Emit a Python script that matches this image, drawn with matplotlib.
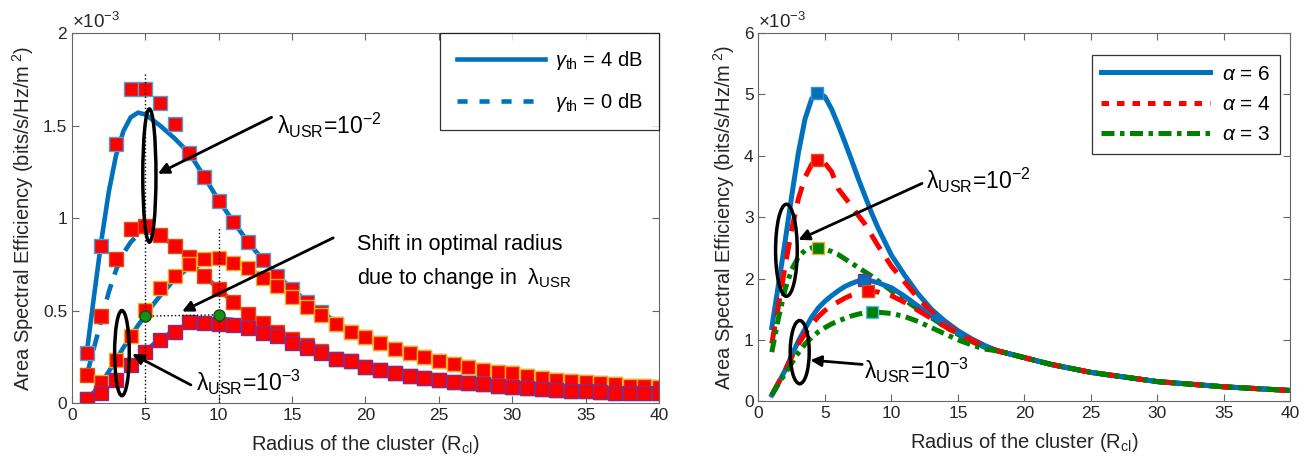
import numpy as np
import matplotlib
matplotlib.use("Agg")
import matplotlib.pyplot as plt
from matplotlib.patches import Ellipse
from matplotlib.lines import Line2D

plt.rcParams['font.family'] = ['Liberation Sans', 'DejaVu Sans']
plt.rcParams['mathtext.fontset'] = 'custom'
plt.rcParams['mathtext.rm'] = 'Liberation Sans'
plt.rcParams['mathtext.it'] = 'Liberation Sans:italic'
plt.rcParams['mathtext.sf'] = 'Liberation Sans'

# ---------------- Left panel data (units of 1e-3) ----------------
x_sim = list(range(1, 41))
# simulation markers
sim_l2_4db = [0.27, 0.85, 1.40, 1.70, 1.70, 1.62, 1.51, 1.35, 1.22, 1.09,
              0.98, 0.87, 0.775, 0.685, 0.616, 0.549, 0.495, 0.43, 0.386, 0.356,
              0.324, 0.29, 0.269, 0.248, 0.226, 0.211, 0.197, 0.181, 0.17, 0.161,
              0.148, 0.137, 0.127, 0.119, 0.112, 0.106, 0.101, 0.095, 0.09, 0.088]
sim_l2_0db = [0.15, 0.47, 0.78, 0.94, 0.955, 0.91, 0.85, 0.79, 0.685, 0.616,
              0.544, 0.48, 0.435, 0.385, 0.345, 0.314, 0.28, 0.24, 0.225, 0.197,
              0.179, 0.161, 0.146, 0.134, 0.125, 0.115, 0.107, 0.101, 0.092, 0.088,
              0.081, 0.078, 0.071, 0.067, 0.063, 0.06, 0.057, 0.055, 0.053, 0.052]
sim_l3_4db = [0.02, 0.115, 0.233, 0.363, 0.504, 0.62, 0.688, 0.75, 0.78, 0.785,
              0.757, 0.73, 0.676, 0.635, 0.576, 0.519, 0.478, 0.428, 0.386, 0.356,
              0.324, 0.29, 0.269, 0.248, 0.226, 0.211, 0.197, 0.181, 0.17, 0.161,
              0.148, 0.137, 0.127, 0.119, 0.112, 0.106, 0.101, 0.095, 0.09, 0.088]
sim_l3_0db = [0.02, 0.056, 0.125, 0.206, 0.278, 0.341, 0.386, 0.44, 0.435, 0.43,
              0.423, 0.405, 0.381, 0.36, 0.327, 0.296, 0.27, 0.24, 0.225, 0.197,
              0.179, 0.161, 0.146, 0.134, 0.125, 0.115, 0.107, 0.101, 0.092, 0.088,
              0.081, 0.078, 0.071, 0.067, 0.063, 0.06, 0.057, 0.055, 0.053, 0.052]

# analytical curves
x_ana = [1, 1.5, 2, 2.5, 3, 3.5, 4, 4.5, 5, 5.5, 6, 7, 8, 9, 10, 11, 12, 13, 14, 15,
         16, 17, 18, 19, 20, 21, 22, 23, 24, 25, 26, 27, 28, 29, 30, 31, 32, 33, 34, 35,
         36, 37, 38, 39, 40]
tail_4db = [0.39, 0.356, 0.324, 0.292, 0.27, 0.248, 0.226, 0.21, 0.196, 0.181, 0.17, 0.16,
            0.149, 0.138, 0.128, 0.12, 0.112, 0.106, 0.1, 0.095, 0.09, 0.087]
tail_0db = [0.225, 0.2, 0.18, 0.163, 0.148, 0.135, 0.125, 0.115, 0.107, 0.1, 0.092, 0.087,
            0.081, 0.077, 0.072, 0.068, 0.064, 0.061, 0.058, 0.056, 0.053, 0.051]
ana_l2_4db = [0.27, 0.58, 0.88, 1.14, 1.34, 1.47, 1.545, 1.57, 1.56, 1.53, 1.50, 1.43,
              1.35, 1.225, 1.095, 0.98, 0.87, 0.775, 0.69, 0.615, 0.55, 0.495, 0.435] + tail_4db
ana_l3_4db = [0.02, 0.06, 0.11, 0.17, 0.235, 0.30, 0.36, 0.42, 0.475, 0.53, 0.58, 0.67,
              0.735, 0.77, 0.78, 0.765, 0.73, 0.68, 0.635, 0.58, 0.525, 0.48, 0.435] + tail_4db
ana_l2_0db = [0.15, 0.30, 0.45, 0.60, 0.72, 0.81, 0.87, 0.91, 0.925, 0.92, 0.905, 0.85,
              0.775, 0.69, 0.615, 0.545, 0.48, 0.435, 0.385, 0.345, 0.31, 0.28, 0.25] + tail_0db
ana_l3_0db = [0.02, 0.04, 0.065, 0.10, 0.135, 0.17, 0.21, 0.245, 0.28, 0.315, 0.345, 0.395,
              0.43, 0.45, 0.455, 0.45, 0.43, 0.405, 0.375, 0.34, 0.305, 0.275, 0.248] + tail_0db

opt_x = [5, 10]
opt_y = [0.47, 0.477]

# ---------------- Right panel data (units of 1e-3) ----------------
x_r = [1, 1.5, 2, 2.5, 3, 3.5, 4, 4.5, 5, 5.5, 6, 6.5, 7, 7.5, 8, 8.5, 9, 10, 11, 12,
       13, 14, 15, 16, 17, 18, 20, 22, 25, 30, 35, 40]
tail_r = [0.82, 0.71, 0.6, 0.47, 0.32, 0.235, 0.175]
a6_l2 = [1.2, 1.9, 2.6, 3.35, 4.05, 4.6, 4.93, 5.03, 4.96, 4.76, 4.5, 4.22, 3.93, 3.63,
         3.35, 3.07, 2.82, 2.38, 2.05, 1.75, 1.5, 1.31, 1.15, 1.02, 0.91] + tail_r
a4_l2 = [0.94, 1.55, 2.2, 2.8, 3.3, 3.65, 3.86, 3.93, 3.88, 3.74, 3.46, 3.32, 3.18, 3.03,
         2.89, 2.71, 2.53, 2.2, 1.94, 1.68, 1.46, 1.27, 1.13, 1.01, 0.9] + tail_r
a3_l2 = [0.8, 1.35, 1.82, 2.15, 2.35, 2.46, 2.5, 2.5, 2.48, 2.44, 2.39, 2.32, 2.25, 2.18,
         2.11, 2.04, 1.96, 1.8, 1.65, 1.5, 1.36, 1.22, 1.09, 0.98, 0.88] + tail_r
a6_l3 = [0.1, 0.3, 0.5, 0.75, 0.98, 1.18, 1.37, 1.52, 1.63, 1.72, 1.8, 1.87, 1.92, 1.96,
         1.97, 1.96, 1.93, 1.85, 1.71, 1.55, 1.39, 1.25, 1.11, 0.99, 0.89] + tail_r
a4_l3 = [0.1, 0.3, 0.5, 0.72, 0.93, 1.1, 1.25, 1.38, 1.48, 1.56, 1.62, 1.68, 1.73, 1.77,
         1.79, 1.79, 1.78, 1.72, 1.61, 1.48, 1.35, 1.22, 1.1, 0.98, 0.88] + tail_r
a3_l3 = [0.1, 0.28, 0.45, 0.62, 0.79, 0.93, 1.04, 1.13, 1.2, 1.26, 1.31, 1.35, 1.39, 1.42,
         1.44, 1.45, 1.45, 1.43, 1.38, 1.3, 1.2, 1.1, 1.0, 0.92, 0.85] + tail_r

peak_x_l2 = [4.4, 4.4, 4.5]
peak_y_l2 = [5.03, 3.93, 2.5]
peak_x_l3 = [7.9, 8.2, 8.5]
peak_y_l3 = [1.97, 1.8, 1.46]

BLUE = '#0072BD'
RED = '#FF0000'
GREEN = '#008000'

fig = plt.figure(figsize=(13.1, 4.66), dpi=100)
ax1 = fig.add_axes([0.055, 0.135, 0.448, 0.794])
ax2 = fig.add_axes([0.579, 0.139, 0.406, 0.790])

TICK_FS = 12.5
LABEL_FS = 14.5

def style(ax):
    for s in ax.spines.values():
        s.set_color('#666666')
        s.set_linewidth(0.8)
    ax.tick_params(direction='in', top=True, right=True, length=5, width=0.8,
                   colors='#666666', labelcolor='#262626', labelsize=TICK_FS)

LW = 3.3
# left panel curves
ax1.plot(x_ana, ana_l2_4db, '-', color=BLUE, lw=LW)
ax1.plot(x_ana, ana_l2_0db, '--', color=BLUE, lw=LW, dashes=(3.5, 2.2))
ax1.plot(x_ana, ana_l3_4db, '-', color=BLUE, lw=LW)
ax1.plot(x_ana, ana_l3_0db, '--', color=BLUE, lw=LW, dashes=(3.5, 2.2))
ms = 9.5
ax1.plot(x_sim, sim_l2_4db, 's', ms=ms, mfc=RED, mec='#4DA0D8', mew=1.0, ls='none')
ax1.plot(x_sim, sim_l2_0db, 's', ms=ms, mfc=RED, mec='#D95319', mew=1.0, ls='none')
ax1.plot(x_sim, sim_l3_4db, 's', ms=ms, mfc=RED, mec='#EDB120', mew=1.0, ls='none')
ax1.plot(x_sim, sim_l3_0db, 's', ms=ms, mfc=RED, mec='#7E2F8E', mew=1.0, ls='none')

# dotted guides
ax1.plot([opt_x[0], opt_x[0]], [0, 1.79], ':', color='k', lw=1.0)
ax1.plot([opt_x[1], opt_x[1]], [0, 0.95], ':', color='k', lw=1.0)
ax1.plot(opt_x, opt_y, ':', color='k', lw=1.0)
ax1.plot(opt_x, opt_y, 'o', ms=8, mfc='#1A8C1A', mec='#0B4F0B', mew=1.0, ls='none', zorder=5)

ax1.set_xlim(0, 40)
ax1.set_ylim(0, 2)
ax1.set_xticks(range(0, 41, 5))
ax1.set_yticks([0, 0.5, 1, 1.5, 2])
ax1.set_yticklabels(['0', '0.5', '1', '1.5', '2'])
style(ax1)
ax1.set_xlabel(r'Radius of the cluster (R$_{\mathrm{cl}}$)', fontsize=LABEL_FS, color='#262626', labelpad=7)
ax1.set_ylabel(r'Area Spectral Efficiency (bits/s/Hz/m$^{\ 2}$)', fontsize=LABEL_FS, color='#262626', labelpad=5)
ax1.text(0, 1.003, r'$\times$10$^{-3}$', transform=ax1.transAxes, ha='left', va='bottom',
         fontsize=13.5, color='#262626')

leg1 = ax1.legend([Line2D([], [], color=BLUE, lw=LW),
                   Line2D([], [], color=BLUE, lw=LW, ls='--', dashes=(2.2, 2.6))],
                  [r'$\gamma_{\mathrm{th}}$ = 4 dB', r'$\gamma_{\mathrm{th}}$ = 0 dB'],
                  loc='upper right', bbox_to_anchor=(1.0, 1.0), borderaxespad=0,
                  fontsize=14.5, handlelength=4.4, frameon=True, fancybox=False,
                  edgecolor='k', borderpad=0.8, labelspacing=0.95, handletextpad=0.5)
leg1.get_frame().set_linewidth(0.9)

# annotations left
ax1.add_patch(Ellipse((5.27, 1.23), 0.9, 0.72, fill=False, lw=2.5, ec='k', zorder=6))
ax1.add_patch(Ellipse((3.4, 0.27), 1.0, 0.46, fill=False, lw=2.5, ec='k', zorder=6))
ap = dict(arrowstyle='-|>', lw=2.0, color='k', mutation_scale=16, shrinkA=0, shrinkB=0)
ax1.annotate('', xy=(5.85, 1.24), xytext=(13.6, 1.545), arrowprops=ap, zorder=7)
ax1.annotate('', xy=(4.1, 0.265), xytext=(8.1, 0.098), arrowprops=ap, zorder=7)
ax1.annotate('', xy=(7.5, 0.495), xytext=(17.8, 0.893), arrowprops=ap, zorder=7)
ANN_FS = 16.5
ax1.text(14.0, 1.50, r'λ$_{\mathrm{USR}}$=10$^{-2}$', fontsize=ANN_FS, va='center', ha='left')
ax1.text(8.45, 0.11, r'λ$_{\mathrm{USR}}$=10$^{-3}$', fontsize=ANN_FS, va='center', ha='left')
ax1.text(19.4, 0.856, 'Shift in optimal radius', fontsize=15.5, va='center', ha='left')
ax1.text(19.4, 0.675, r'due to change in  λ$_{\mathrm{USR}}$', fontsize=15.5, va='center', ha='left')

# right panel
LW2 = 3.6
dashdot = (2.6, 1.1, 0.9, 1.1)
ax2.plot(x_r, a6_l2, '-', color=BLUE, lw=LW2)
ax2.plot(x_r, a4_l2, '--', color=RED, lw=LW2, dashes=(3.5, 2.2))
ax2.plot(x_r, a3_l2, '-.', color=GREEN, lw=LW2, dashes=dashdot)
ax2.plot(x_r, a6_l3, '-', color=BLUE, lw=LW2)
ax2.plot(x_r, a4_l3, '--', color=RED, lw=LW2, dashes=(3.5, 2.2))
ax2.plot(x_r, a3_l3, '-.', color=GREEN, lw=LW2, dashes=dashdot)

face = [BLUE, RED, GREEN]
edge_l2 = ['#3B8FD0', '#D95319', '#EDB120']
edge_l3 = ['#7E2F8E', '#D95319', '#4DBEEE']
for i in range(3):
    ax2.plot([peak_x_l2[i]], [peak_y_l2[i]], 's', ms=9, mfc=face[i], mec=edge_l2[i], mew=1.0, zorder=5)
    ax2.plot([peak_x_l3[i]], [peak_y_l3[i]], 's', ms=9, mfc=face[i], mec=edge_l3[i], mew=1.0, zorder=5)

ax2.set_xlim(0, 40)
ax2.set_ylim(0, 6)
ax2.set_xticks(range(0, 41, 5))
ax2.set_yticks(range(0, 7))
style(ax2)
ax2.set_xlabel(r'Radius of the cluster (R$_{\mathrm{cl}}$)', fontsize=LABEL_FS, color='#262626', labelpad=7)
ax2.set_ylabel(r'Area Spectral Efficiency (bits/s/Hz/m$^{\ 2}$)', fontsize=LABEL_FS, color='#262626', labelpad=5)
ax2.text(0, 1.003, r'$\times$10$^{-3}$', transform=ax2.transAxes, ha='left', va='bottom',
         fontsize=13.5, color='#262626')

leg2 = ax2.legend([Line2D([], [], color=BLUE, lw=LW2),
                   Line2D([], [], color=RED, lw=LW2, ls='--', dashes=(1.5, 1.6)),
                   Line2D([], [], color=GREEN, lw=LW2, ls='-.', dashes=dashdot)],
                  [r'$\alpha$ = 6', r'$\alpha$ = 4', r'$\alpha$ = 3'],
                  loc='upper right', bbox_to_anchor=(0.981, 0.94), borderaxespad=0,
                  fontsize=15, handlelength=5.2, frameon=True, fancybox=False,
                  edgecolor='k', borderpad=0.45, labelspacing=0.55, handletextpad=0.6)
leg2.get_frame().set_linewidth(0.9)

ax2.add_patch(Ellipse((2.1, 2.46), 1.63, 1.5, fill=False, lw=2.5, ec='k', zorder=6))
ax2.add_patch(Ellipse((3.1, 0.8), 1.43, 1.03, fill=False, lw=2.5, ec='k', zorder=6))
ax2.annotate('', xy=(3.0, 2.63), xytext=(12.3, 3.55), arrowprops=ap, zorder=7)
ax2.annotate('', xy=(3.9, 0.67), xytext=(7.8, 0.6), arrowprops=ap, zorder=7)
ax2.text(12.6, 3.6, r'λ$_{\mathrm{USR}}$=10$^{-2}$', fontsize=ANN_FS, va='center', ha='left')
ax2.text(7.95, 0.5, r'λ$_{\mathrm{USR}}$=10$^{-3}$', fontsize=ANN_FS, va='center', ha='left')

fig.savefig('out.png', dpi=100)
